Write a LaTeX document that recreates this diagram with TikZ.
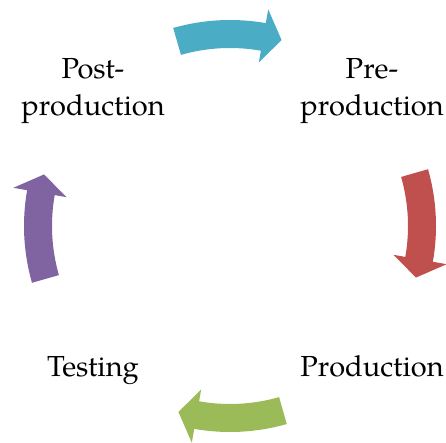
\documentclass[tikz,border=0pt]{standalone}
\usepackage{fontspec}
\setmainfont{TeX Gyre Pagella}
\usepackage{tikz}
\definecolor{stepteal}{HTML}{4BACC6}
\definecolor{stepred}{HTML}{C0504D}
\definecolor{stepgreen}{HTML}{9BBB59}
\definecolor{steppurple}{HTML}{8064A2}
\begin{document}
\begin{tikzpicture}[x=1pt, y=1pt, every node/.style={font=\fontsize{29}{37}\selectfont, align=center, anchor=base, inner sep=0pt, outer sep=0pt}]
\useasboundingbox (0,0) rectangle (446,442);
\node (post) at (93,326) {Post-\\production};
\node (pre) at (372,326) {Pre-\\production};
\node (prod) at (372,66) {Production};
\node (test) at (93,66) {Testing};

\fill[stepteal, shift={(230,216)}] (106:206) arc[start angle=106, end angle=80, radius=206] -- (80:220) -- (74.5:193) -- (80:166) -- (80:178) arc[start angle=80, end angle=106, radius=178] -- cycle;
\fill[stepred, shift={(230,216)}] (16:206) arc[start angle=16, end angle=-10, radius=206] -- (-10:220) -- (-15.5:193) -- (-10:166) -- (-10:178) arc[start angle=-10, end angle=16, radius=178] -- cycle;
\fill[stepgreen, shift={(230,216)}] (-74:206) arc[start angle=-74, end angle=-100, radius=206] -- (-100:220) -- (-105.5:193) -- (-100:166) -- (-100:178) arc[start angle=-100, end angle=-74, radius=178] -- cycle;
\fill[steppurple, shift={(230,216)}] (196:206) arc[start angle=196, end angle=170, radius=206] -- (170:220) -- (164.5:193) -- (170:166) -- (170:178) arc[start angle=170, end angle=196, radius=178] -- cycle;
\end{tikzpicture}
\end{document}
